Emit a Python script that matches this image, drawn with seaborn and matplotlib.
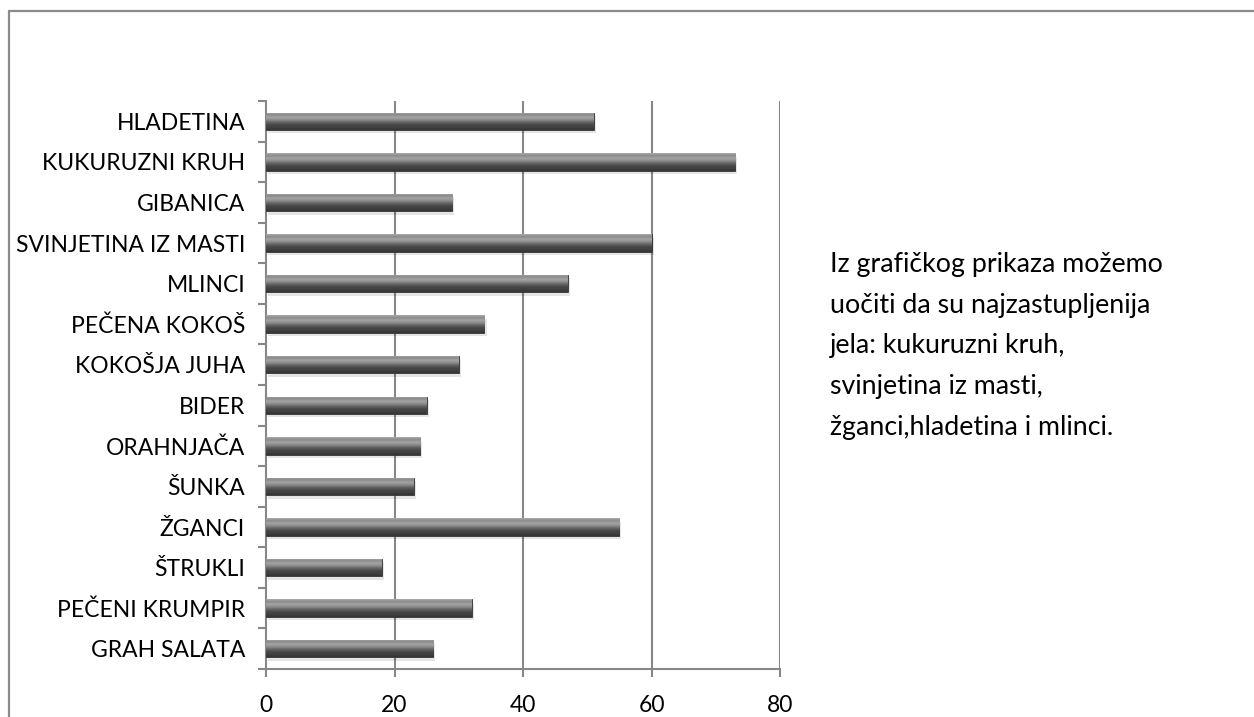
import numpy as np
import pandas as pd
import matplotlib
matplotlib.use("Agg")
import matplotlib.pyplot as plt
import matplotlib.transforms as mtransforms
from matplotlib.colors import LinearSegmentedColormap
from matplotlib.lines import Line2D
from matplotlib.patches import Rectangle
import seaborn as sns

# Traditional dishes and how often each was named
dishes = [
    "HLADETINA", "KUKURUZNI KRUH", "GIBANICA", "SVINJETINA IZ MASTI",
    "MLINCI", "PEČENA KOKOŠ", "KOKOŠJA JUHA", "BIDER", "ORAHNJAČA",
    "ŠUNKA", "ŽGANCI", "ŠTRUKLI", "PEČENI KRUMPIR", "GRAH SALATA",
]
counts = [51, 73, 29, 60, 47, 34, 30, 25, 24, 23, 55, 18, 32, 26]
x_ticks = [0, 20, 40, 60, 80]

note_lines = [
    "Iz grafičkog prikaza možemo",
    "uočiti da su najzastupljenija",
    "jela: kukuruzni kruh,",
    "svinjetina iz masti,",
    "žganci,hladetina i mlinci.",
]

df = pd.DataFrame({"jelo": dishes, "broj": counts})

sns.set_theme(style="white")
plt.rcParams["font.family"] = ["Lato", "DejaVu Sans"]

fig = plt.figure(figsize=(12.54, 7.17), dpi=100)
ax = fig.add_axes([266 / 1254, 1 - 669 / 717, (780 - 266) / 1254, (669 - 101) / 717])

sns.barplot(data=df, x="broj", y="jelo", order=dishes, color="#555555",
            width=0.43, ax=ax, zorder=3)

ax.set_xlim(0, 80)
ax.set_ylim(len(dishes) - 0.5, -0.5)

# glossy vertical shading for each bar
profile = ["#a9a9a9", "#8a8a8a", "#a4a4a4", "#8c8c8c", "#646464",
           "#484848", "#404040", "#353535"]
cmap = LinearSegmentedColormap.from_list("gloss", profile)
grad = np.linspace(0, 1, 64).reshape(-1, 1)
shadow_tr = mtransforms.offset_copy(ax.transData, fig=fig, x=1.5, y=-2.5, units="points")
for p in list(ax.patches):
    x0, y0 = p.get_x(), p.get_y()
    w, h = p.get_width(), p.get_height()
    sh = Rectangle((x0, y0), w, h, transform=shadow_tr, facecolor="black",
                   alpha=0.10, edgecolor="none", zorder=2)
    ax.add_patch(sh)
    im = ax.imshow(grad, cmap=cmap, aspect="auto", origin="upper",
                   extent=(x0, x0 + w, y0 + h, y0), zorder=4, interpolation="bilinear")
    im.set_clip_path(p)
    p.set_edgecolor("#333333")
    p.set_linewidth(0.6)

ax.set_xlim(0, 80)
ax.set_ylim(len(dishes) - 0.5, -0.5)

grid_c = "#878787"
for v in x_ticks[1:]:
    ax.axvline(v, color=grid_c, lw=1.5, zorder=1)

ax.set_xticks(x_ticks)
ax.set_xticklabels([str(t) for t in x_ticks])
ax.set_xlabel("")
ax.set_ylabel("")

for side in ["top", "right"]:
    ax.spines[side].set_visible(False)
for side in ["left", "bottom"]:
    ax.spines[side].set_color(grid_c)
    ax.spines[side].set_linewidth(1.5)

ax.tick_params(axis="x", which="major", direction="out", length=6, width=1.5,
               color=grid_c, pad=13, labelsize=16.5, labelcolor="black", bottom=True)
ax.tick_params(axis="y", which="major", length=0, pad=15, labelsize=16.5,
               labelcolor="black")
ax.set_yticks(np.arange(-0.5, len(dishes), 1.0), minor=True)
ax.tick_params(axis="y", which="minor", direction="out", length=6, width=1.5,
               color=grid_c, left=True)

# explanatory note beside the chart
for i, line in enumerate(note_lines):
    fig.text(830 / 1254, 1 - (272 + 40.7 * i) / 717, line, fontsize=19.3,
             ha="left", va="baseline", color="black")

# surrounding frame
fig.add_artist(Line2D([9 / 1254, 9 / 1254], [0, 1 - 11 / 717],
                      transform=fig.transFigure, color="#8a8a8a", lw=1.6))
fig.add_artist(Line2D([9 / 1254, 1], [1 - 11 / 717, 1 - 11 / 717],
                      transform=fig.transFigure, color="#8a8a8a", lw=1.6))

fig.savefig("out.png", dpi=100, facecolor="white")
